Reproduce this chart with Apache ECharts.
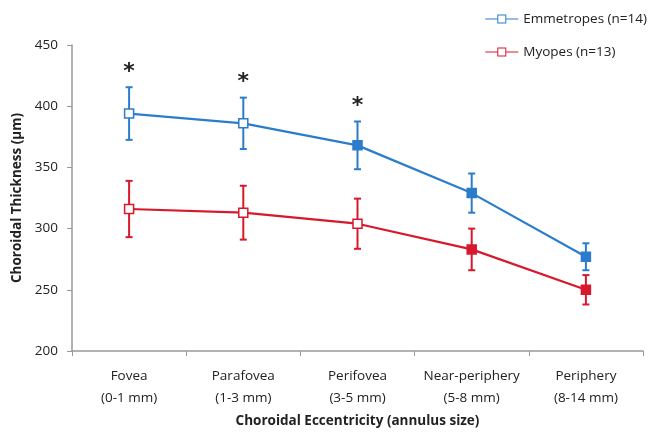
<!DOCTYPE html>
<html><head><meta charset="utf-8">
<script src="https://cdn.jsdelivr.net/npm/echarts@6/dist/echarts.min.js"></script>
<style>html,body{margin:0;padding:0;background:#fff}#c{width:654px;height:433px}</style>
</head><body><div id="c"></div>
<script>
var categories = ['Fovea\n(0-1 mm)', 'Parafovea\n(1-3 mm)', 'Perifovea\n(3-5 mm)', 'Near-periphery\n(5-8 mm)', 'Periphery\n(8-14 mm)'];
var emmetropes = [394, 386, 368, 329, 277];
var emmetropesErr = [21.5, 21, 19.5, 16, 11];
var myopes = [316, 313, 304, 283, 250];
var myopesErr = [23, 22, 20.5, 17, 12];
var significant = [true, true, true, false, false];
var yTicks = [200, 250, 300, 350, 400, 450];

var BLUE = '#2b7ccb', RED = '#d8182c';
var blueFilled = [false, false, true, true, true];
var redFilled = [false, false, false, true, true];

function errSeries(name, vals, errs, color) {
  return {
    type: 'custom', name: name + ' err', silent: true, z: 3,
    data: vals.map(function (v, i) { return [i, v - errs[i], v + errs[i]]; }),
    renderItem: function (params, api) {
      var lo = api.coord([api.value(0), api.value(1)]);
      var hi = api.coord([api.value(0), api.value(2)]);
      var w = 3.5;
      var st = { stroke: color, lineWidth: 2 };
      return { type: 'group', children: [
        { type: 'line', shape: { x1: lo[0], y1: lo[1], x2: hi[0], y2: hi[1] }, style: st },
        { type: 'line', shape: { x1: lo[0] - w, y1: lo[1], x2: lo[0] + w, y2: lo[1] }, style: st },
        { type: 'line', shape: { x1: hi[0] - w, y1: hi[1], x2: hi[0] + w, y2: hi[1] }, style: st }
      ]};
    }
  };
}

var legendIcon = 'path://M0,5.5H12V1.5H21V5.5H33V6.5H21V10.5H12V6.5H0Z M13,2.5V9.5H20V2.5Z';
var chart = echarts.init(document.getElementById('c'));
chart.setOption({
  backgroundColor: '#fff',
  animation: false,
  grid: { left: 72, right: 11, top: 45, bottom: 79 },
  legend: {
    orient: 'vertical', right: 2, top: 7, itemGap: 19,
    itemWidth: 33, itemHeight: 12,
    textStyle: { fontFamily: 'Open Sans', fontSize: 13.5, color: '#222' },
    data: [
      { name: 'Emmetropes (n=14)', icon: legendIcon, itemStyle: { color: BLUE, borderWidth: 0 } },
      { name: 'Myopes (n=13)', icon: legendIcon, itemStyle: { color: RED, borderWidth: 0 } }
    ]
  },
  xAxis: {
    type: 'category', data: categories, boundaryGap: true,
    axisLine: { lineStyle: { color: '#999', width: 1.5 } },
    axisTick: { show: true, alignWithLabel: false, length: 5, lineStyle: { color: '#999' } },
    axisLabel: { interval: 0, color: '#222', fontFamily: 'Open Sans', fontSize: 13.5, lineHeight: 22, margin: 14 },
    name: 'Choroidal Eccentricity (annulus size)', nameLocation: 'middle', nameGap: 63,
    nameTextStyle: { fontFamily: 'Open Sans', fontWeight: 'bold', fontSize: 13.5, color: '#222' }
  },
  yAxis: {
    type: 'value', min: 200, max: 450, interval: 50,
    splitLine: { show: false },
    axisLine: { show: true, lineStyle: { color: '#999', width: 1.5 } },
    axisTick: { show: true, length: 5, lineStyle: { color: '#999' } },
    axisLabel: { color: '#222', fontFamily: 'Open Sans', fontSize: 13.5, margin: 14,
      formatter: function (v) { return yTicks.indexOf(v) >= 0 ? String(v) : ''; } },
    name: 'Choroidal Thickness (µm)', nameLocation: 'middle', nameGap: 42,
    nameTextStyle: { fontFamily: 'Open Sans', fontWeight: 'bold', fontSize: 13.5, color: '#222' }
  },
  series: [
    errSeries('Emmetropes', emmetropes, emmetropesErr, BLUE),
    errSeries('Myopes', myopes, myopesErr, RED),
    {
      name: 'Emmetropes (n=14)', type: 'line', data: emmetropes, z: 4,
      symbol: 'rect', symbolSize: 9,
      lineStyle: { color: BLUE, width: 2.2 },
      itemStyle: { color: function (p) { return blueFilled[p.dataIndex] ? BLUE : '#fff'; }, borderColor: BLUE, borderWidth: 1.5 }
    },
    {
      name: 'Myopes (n=13)', type: 'line', data: myopes, z: 4,
      symbol: 'rect', symbolSize: 9,
      lineStyle: { color: RED, width: 2.2 },
      itemStyle: { color: function (p) { return redFilled[p.dataIndex] ? RED : '#fff'; }, borderColor: RED, borderWidth: 1.5 }
    },
    {
      type: 'custom', name: 'sig', silent: true, z: 5,
      data: emmetropes.map(function (v, i) { return [i, v + emmetropesErr[i], significant[i] ? 1 : 0]; }),
      renderItem: function (params, api) {
        if (!api.value(2)) return null;
        var p = api.coord([api.value(0), api.value(1)]);
        return { type: 'text', x: p[0], y: p[1] - 4,
          style: { text: '*', font: 'bold 22px "DejaVu Sans"', fill: '#222', align: 'center', verticalAlign: 'bottom' } };
      }
    }
  ]
});
</script></body></html>
